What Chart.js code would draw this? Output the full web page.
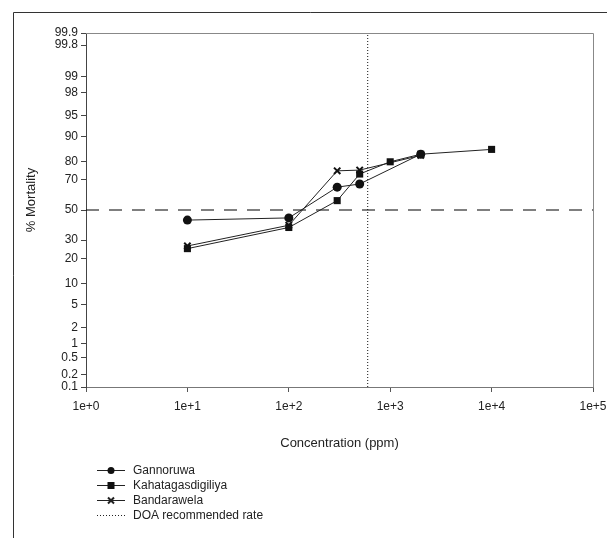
<!DOCTYPE html>
<html>
<head>
<meta charset="utf-8">
<script src="https://cdn.jsdelivr.net/npm/chart.js@4.4.1/dist/chart.umd.min.js"></script>
<style>
  html, body { margin: 0; padding: 0; background: #fff; }
  #wrap { width: 607px; height: 538px; position: relative; }
</style>
</head>
<body>
<div id="wrap"><canvas id="grafica" width="607" height="538"></canvas></div>
<script>
// datos
const concGannoruwa = [10, 100, 300, 500, 2000];
const mortGannoruwa = [43, 44.5, 65.5, 67.5, 83.5];

const concKahata = [10, 100, 300, 500, 1000, 2000, 10000];
const mortKahata = [25, 38, 56.5, 73.5, 80, 83.5, 85.5];

const concBandara = [10, 100, 300, 500, 2000];
const mortBandara = [26.5, 39.5, 75.3, 75.7, 83];

const doaRate = 600;
const lineaMedia = 50;

const xTicks = [1, 10, 100, 1000, 10000, 100000];
const yTicks = [0.1, 0.2, 0.5, 1, 2, 5, 10, 20, 30, 50, 70, 80, 90, 95, 98, 99, 99.8, 99.9];

const nombres = ['Gannoruwa', 'Kahatagasdigiliya', 'Bandarawela', 'DOA recommended rate'];

// inversa de la normal (Acklam)
function probit(p) {
    const a = [-3.969683028665376e+01, 2.209460984245205e+02, -2.759285104469687e+02, 1.383577518672690e+02, -3.066479806614716e+01, 2.506628277459239e+00];
    const b = [-5.447609879822406e+01, 1.615858368580409e+02, -1.556989798598866e+02, 6.680131188771972e+01, -1.328068155288572e+01];
    const c = [-7.784894002430293e-03, -3.223964580411365e-01, -2.400758277161838e+00, -2.549732539343734e+00, 4.374664141464968e+00, 2.938163982698783e+00];
    const d = [7.784695709041462e-03, 3.224671290700398e-01, 2.445134137142996e+00, 3.754408661907416e+00];
    const pl = 0.02425;
    if (p < pl) {
        const q = Math.sqrt(-2 * Math.log(p));
        return (((((c[0]*q+c[1])*q+c[2])*q+c[3])*q+c[4])*q+c[5]) / ((((d[0]*q+d[1])*q+d[2])*q+d[3])*q+1);
    }
    if (p > 1 - pl) {
        const q = Math.sqrt(-2 * Math.log(1 - p));
        return -(((((c[0]*q+c[1])*q+c[2])*q+c[3])*q+c[4])*q+c[5]) / ((((d[0]*q+d[1])*q+d[2])*q+d[3])*q+1);
    }
    const q = p - 0.5, r = q * q;
    return (((((a[0]*r+a[1])*r+a[2])*r+a[3])*r+a[4])*r+a[5])*q / (((((b[0]*r+b[1])*r+b[2])*r+b[3])*r+b[4])*r+1);
}

// escala probit para % mortalidad
class ProbitScale extends Chart.LinearScale {
    buildTicks() {
        return yTicks.map(v => ({ value: v }));
    }
    getPixelForValue(value) {
        const zmin = probit(this.min / 100);
        const zmax = probit(this.max / 100);
        const z = probit(Math.min(Math.max(value, 0.0001), 99.9999) / 100);
        return this.getPixelForDecimal((z - zmin) / (zmax - zmin));
    }
    getValueForPixel(pixel) {
        return 50;
    }
}
ProbitScale.id = 'probit';
ProbitScale.defaults = Chart.LinearScale.defaults;
Chart.register(ProbitScale);

const puntos = (xs, ys) => xs.map((x, i) => ({ x: x, y: ys[i] }));

const marco = {
    id: 'marco',
    afterDraw(chart) {
        const { ctx, chartArea: ca } = chart;
        ctx.save();
        // borde exterior
        ctx.strokeStyle = '#333';
        ctx.lineWidth = 1;
        ctx.beginPath();
        ctx.moveTo(13.5, 538);
        ctx.lineTo(13.5, 12.5);
        ctx.lineTo(607, 12.5);
        ctx.stroke();
        // marco del area
        ctx.strokeStyle = '#888';
        ctx.beginPath();
        ctx.moveTo(ca.left, ca.top + 0.5);
        ctx.lineTo(ca.right + 0.5, ca.top + 0.5);
        ctx.lineTo(ca.right + 0.5, ca.bottom);
        ctx.stroke();

        ctx.fillStyle = '#222';
        ctx.font = '13px "Liberation Sans", Arial, sans-serif';
        ctx.textAlign = 'center';
        ctx.textBaseline = 'middle';
        ctx.fillText('Concentration (ppm)', (ca.left + ca.right) / 2, 443);
        ctx.save();
        ctx.translate(31, 200);
        ctx.rotate(-Math.PI / 2);
        ctx.fillText('% Mortality', 0, 0);
        ctx.restore();

        // leyenda
        const lx0 = 97, lx1 = 125, tx = 133;
        const ys = [470, 485, 500, 515];
        ctx.font = '12px "Liberation Sans", Arial, sans-serif';
        ctx.textAlign = 'left';
        ys.forEach((y, i) => {
            ctx.strokeStyle = '#222';
            ctx.fillStyle = '#111';
            ctx.lineWidth = 1;
            ctx.setLineDash(i === 3 ? [1, 2] : []);
            ctx.beginPath();
            ctx.moveTo(lx0, y + 0.5);
            ctx.lineTo(lx1, y + 0.5);
            ctx.stroke();
            ctx.setLineDash([]);
            const mx = (lx0 + lx1) / 2;
            if (i === 0) {
                ctx.beginPath();
                ctx.arc(mx, y + 0.5, 3.5, 0, Math.PI * 2);
                ctx.fill();
            } else if (i === 1) {
                ctx.fillRect(mx - 3.5, y - 3, 7, 7);
            } else if (i === 2) {
                ctx.lineWidth = 2;
                ctx.beginPath();
                ctx.moveTo(mx - 3, y - 2.5); ctx.lineTo(mx + 3, y + 3.5);
                ctx.moveTo(mx + 3, y - 2.5); ctx.lineTo(mx - 3, y + 3.5);
                ctx.stroke();
            }
            ctx.fillStyle = '#222';
            ctx.fillText(nombres[i], tx, y + 1);
        });
        ctx.restore();
    }
};

const grafica = new Chart(document.getElementById('grafica').getContext('2d'), {
    type: 'line',
    data: {
        datasets: [
            {
                label: nombres[0],
                data: puntos(concGannoruwa, mortGannoruwa),
                borderColor: '#222', backgroundColor: '#111', borderWidth: 1,
                pointStyle: 'circle', pointRadius: 4.5, pointBorderWidth: 0
            },
            {
                label: nombres[1],
                data: puntos(concKahata, mortKahata),
                borderColor: '#222', backgroundColor: '#111', borderWidth: 1,
                pointStyle: 'rect', pointRadius: 5, pointBorderWidth: 0
            },
            {
                label: nombres[2],
                data: puntos(concBandara, mortBandara),
                borderColor: '#222', backgroundColor: '#111', borderWidth: 1,
                pointStyle: 'crossRot', pointRadius: 4.5, pointBorderWidth: 2,
                pointBorderColor: '#111'
            },
            {
                label: nombres[3],
                data: [{ x: doaRate, y: yTicks[0] }, { x: doaRate, y: yTicks[yTicks.length - 1] }],
                borderColor: '#111', borderWidth: 1, borderDash: [1, 2], pointRadius: 0
            },
            {
                label: '50%',
                data: [{ x: xTicks[0], y: lineaMedia }, { x: xTicks[xTicks.length - 1], y: lineaMedia }],
                borderColor: '#000', borderWidth: 1.2, borderDash: [13, 10], pointRadius: 0
            }
        ]
    },
    options: {
        responsive: false,
        animation: false,
        layout: { padding: { top: 33, right: 14, left: 0, bottom: 0 } },
        plugins: {
            legend: { display: false },
            tooltip: { enabled: false }
        },
        scales: {
            x: {
                type: 'logarithmic',
                min: 1,
                max: 100000,
                afterBuildTicks: s => { s.ticks = xTicks.map(v => ({ value: v })); },
                afterFit: s => {
                    s.height = 151;
                    s.paddingLeft = 0;
                    s.paddingRight = 0;
                },
                border: { color: '#777', width: 1 },
                grid: { drawOnChartArea: false, drawTicks: true, tickLength: 5, color: '#555' },
                ticks: {
                    color: '#222',
                    padding: 7,
                    autoSkip: false,
                    maxRotation: 0,
                    font: { family: '"Liberation Sans", Arial, sans-serif', size: 12 },
                    callback: v => '1e+' + Math.round(Math.log10(v))
                }
            },
            y: {
                type: 'probit',
                min: 0.1,
                max: 99.9,
                afterFit: s => {
                    s.width = 86;
                    s.paddingTop = 0;
                    s.paddingBottom = 0;
                },
                border: { color: '#444', width: 1 },
                grid: { drawOnChartArea: false, drawTicks: true, tickLength: 5, color: '#444' },
                ticks: {
                    color: '#222',
                    padding: 3,
                    autoSkip: false,
                    font: { family: '"Liberation Sans", Arial, sans-serif', size: 12 },
                    callback: v => String(v)
                }
            }
        }
    },
    plugins: [marco]
});
</script>
</body>
</html>
